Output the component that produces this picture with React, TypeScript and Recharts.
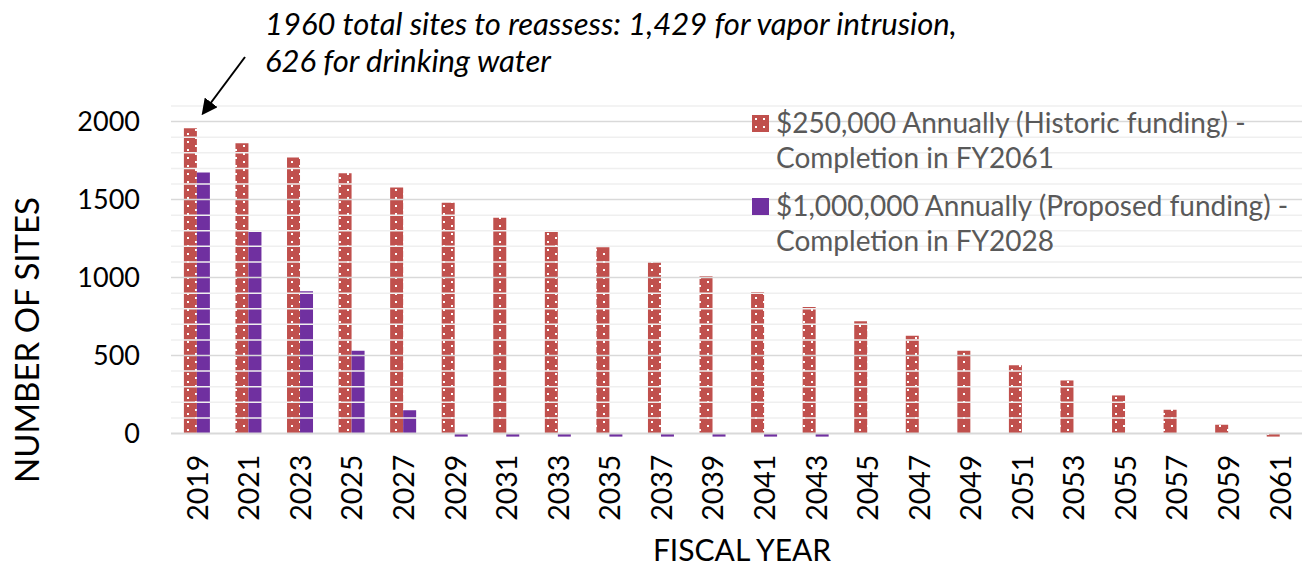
import React from "react";
import {
  BarChart,
  Bar,
  XAxis,
  YAxis,
  ReferenceLine,
  Label,
} from "recharts";

// Sites left to reassess at the start of each fiscal year
const years = [
  "2019", "2021", "2023", "2025", "2027", "2029", "2031", "2033", "2035", "2037", "2039",
  "2041", "2043", "2045", "2047", "2049", "2051", "2053", "2055", "2057", "2059", "2061",
];
const historicFunding = [
  1958, 1861, 1769, 1669, 1577, 1480, 1384, 1292, 1194, 1100, 1008,
  907, 811, 720, 626, 530, 438, 340, 244, 152, 56, -20,
];
const proposedFunding = [
  1673, 1292, 912, 531, 149, -20, -20, -20, -20, -20, -20,
  -20, -20, null, null, null, null, null, null, null, null, null,
];
const yTicks = [0, 500, 1000, 1500, 2000];
const minorGrid = [
  100, 200, 300, 400, 600, 700, 800, 900, 1100, 1200, 1300, 1400,
  1600, 1700, 1800, 1900, 2100,
];

const historicLabel = ["$250,000 Annually (Historic funding) -", "Completion in FY2061"];
const proposedLabel = ["$1,000,000 Annually (Proposed funding) -", "Completion in FY2028"];

const RED = "#c0504d";
const PURPLE = "#7030a0";
const FONT = "Lato, 'Open Sans', sans-serif";

const data = years.map((year, i) => ({
  year,
  historic: historicFunding[i],
  proposed: proposedFunding[i],
}));

const YearTick = ({ x, y, payload }: any) => (
  <text
    x={x}
    y={y}
    transform={`rotate(-90 ${x} ${y})`}
    textAnchor="end"
    dominantBaseline="central"
    fontSize={28.5}
    fontFamily={FONT}
    fill="#000"
  >
    {payload.value}
  </text>
);

const LegendBox = () => {
  const entries = [
    { dotted: true, lines: historicLabel },
    { dotted: false, lines: proposedLabel },
  ];
  return (
    <div
      style={{
        position: "absolute",
        left: 752,
        top: 105,
        fontFamily: FONT,
        fontSize: 28,
        color: "#595959",
        lineHeight: "35px",
      }}
    >
      {entries.map((e, i) => (
        <div key={i} style={{ display: "flex", alignItems: "flex-start", marginBottom: 13 }}>
          <svg width={17} height={17} style={{ marginTop: 10, marginRight: 7, flexShrink: 0 }}>
            <defs>
              <pattern id="legDots" patternUnits="userSpaceOnUse" width={8} height={8}>
                <rect width={8} height={8} fill={RED} />
                <rect x={3} y={3} width={2} height={2} fill="#fff" />
              </pattern>
            </defs>
            <rect width={17} height={17} fill={e.dotted ? "url(#legDots)" : PURPLE} />
          </svg>
          <div style={{ whiteSpace: "nowrap" }}>
            {e.lines.map((l) => (
              <div key={l}>{l}</div>
            ))}
          </div>
        </div>
      ))}
    </div>
  );
};

export default function App() {
  return (
    <div
      style={{
        position: "absolute",
        left: 0,
        top: 0,
        width: 1302,
        height: 567,
        overflow: "hidden",
        background: "#fff",
      }}
    >
      <BarChart
        width={1310}
        height={567}
        data={data}
        margin={{ top: 106, right: 4.6, bottom: 0, left: 0 }}
        barCategoryGap="25%"
        barGap={0}
      >
        <defs>
          <pattern id="dots" patternUnits="userSpaceOnUse" width={16} height={8}>
            <rect width={16} height={8} fill={RED} />
            <rect x={3} y={1} width={2} height={2} fill="#fff" />
            <rect x={11} y={5} width={2} height={2} fill="#fff" />
          </pattern>
        </defs>

        {minorGrid.map((v) => (
          <ReferenceLine key={`m${v}`} y={v} stroke="#efefef" strokeWidth={1.5} />
        ))}
        {yTicks.slice(1).map((v) => (
          <ReferenceLine key={`M${v}`} y={v} stroke="#d9d9d9" strokeWidth={1.5} />
        ))}

        <XAxis
          dataKey="year"
          height={130.4}
          interval={0}
          tickLine={false}
          axisLine={false}
          tickMargin={12}
          tick={<YearTick />}
        >
          <Label
            content={() => (
              <text
                x={742}
                y={549}
                textAnchor="middle"
                dominantBaseline="central"
                fontSize={30}
                fontFamily={FONT}
                fill="#000"
              >
                FISCAL YEAR
              </text>
            )}
          />
        </XAxis>
        <YAxis
          width={171}
          domain={[-20, 2100]}
          ticks={yTicks}
          tickLine={false}
          axisLine={false}
          tickMargin={25}
          tick={{ fontSize: 27, fontFamily: FONT, fill: "#000" }}
        >
          <Label
            content={() => (
              <text
                x={26}
                y={340}
                transform="rotate(-90 26 340)"
                textAnchor="middle"
                dominantBaseline="central"
                fontSize={33}
                fontFamily={FONT}
                fill="#000"
              >
                NUMBER OF SITES
              </text>
            )}
          />
        </YAxis>

        <Bar dataKey="historic" fill="url(#dots)" isAnimationActive={false} />
        <Bar dataKey="proposed" fill={PURPLE} isAnimationActive={false} />

        <ReferenceLine y={0} stroke="#d9d9d9" strokeWidth={2} />
      </BarChart>

      <LegendBox />

      {/* callout for the starting backlog */}
      <svg
        width={1302}
        height={567}
        style={{ position: "absolute", left: 0, top: 0, pointerEvents: "none" }}
      >
        <defs>
          <marker id="arrowHead" markerWidth={8} markerHeight={8} refX={6} refY={4} orient="auto">
            <path d="M0,0 L8,4 L0,8 z" fill="#000" />
          </marker>
        </defs>
        <line x1={245} y1={57} x2={204} y2={112} stroke="#000" strokeWidth={2} markerEnd="url(#arrowHead)" />
        <text fontFamily={FONT} fontStyle="italic" fontSize={31} fill="#000">
          <tspan x={265} y={35}>1960 total sites to reassess: 1,429 for vapor intrusion,</tspan>
          <tspan x={265} y={72}>626 for drinking water</tspan>
        </text>
      </svg>
    </div>
  );
}
